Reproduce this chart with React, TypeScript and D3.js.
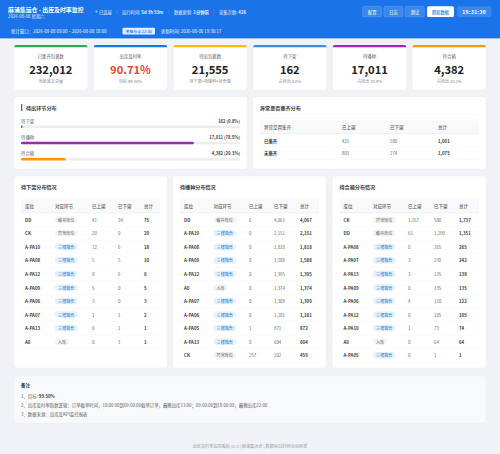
import React from "react";
import * as d3 from "d3";

const FONT = '"Noto Sans CJK SC", "Noto Sans", sans-serif';

const kpiLabels = ["已集齐包裹数", "出库及时率", "待出包裹数", "待下架", "待播种", "待合箱"];
const kpiValues = ["232,012", "90.71%", "21,555", "162", "17,011", "4,382"];
const kpiNotes = ["当前波次总量", "目标 99.50%", "待下架+待播种+待合箱", "占待出 0.8%", "占待出 78.9%", "占待出 20.3%"];
const kpiColors = ["#34a853", "#1a73e8", "#fbbc04", "#4285f4", "#9c27b0", "#ff9800"];

const stageNames = ["待下架", "待播种", "待合箱"];
const stageCounts = [162, 17011, 4382];
const stageTexts = ["162 (0.8%)", "17,011 (78.9%)", "4,382 (20.3%)"];
const stageColors = ["#1a73e8", "#9c27b0", "#ff9800"];

const tableHeaders = ["库位", "对应环节", "已上架", "已下架", "总计"];
type Row = [string, string, string, string, string];

const S = "三楼箱合";
const pickRows: Row[] = [
  ["DD", "缓存库位", "41", "34", "75"],
  ["CK", "异常库位", "20", "0", "20"],
  ["A-PA10", S, "12", "6", "18"],
  ["A-PA08", S, "5", "5", "10"],
  ["A-PA12", S, "0", "6", "6"],
  ["A-PA09", S, "5", "0", "5"],
  ["A-PA06", S, "3", "0", "3"],
  ["A-PA07", S, "1", "1", "2"],
  ["A-PA13", S, "0", "1", "1"],
  ["A0", "入库", "0", "1", "1"],
];
const sowRows: Row[] = [
  ["DD", "缓存库位", "6", "4,061", "4,067"],
  ["A-PA10", S, "0", "2,151", "2,151"],
  ["A-PA08", S, "0", "1,818", "1,818"],
  ["A-PA09", S, "0", "1,588", "1,588"],
  ["A-PA12", S, "0", "1,395", "1,395"],
  ["A0", "入库", "0", "1,374", "1,374"],
  ["A-PA07", S, "0", "1,309", "1,309"],
  ["A-PA06", S, "0", "1,181", "1,181"],
  ["A-PA05", S, "1", "871", "872"],
  ["A-PA13", S, "0", "604", "604"],
  ["CK", "异常库位", "257", "202", "459"],
];
const boxRows: Row[] = [
  ["CK", "异常库位", "1,157", "580", "1,737"],
  ["DD", "缓存库位", "61", "1,290", "1,351"],
  ["A-PA08", S, "0", "265", "265"],
  ["A-PA07", S, "3", "239", "242"],
  ["A-PA13", S, "3", "135", "138"],
  ["A-PA09", S, "0", "135", "135"],
  ["A-PA06", S, "4", "118", "122"],
  ["A-PA12", S, "0", "105", "105"],
  ["A-PA10", S, "1", "73", "74"],
  ["A0", "入库", "0", "64", "64"],
  ["A-PA05", S, "0", "1", "1"],
];

const abnormalHeaders = ["异常是否集齐", "已上架", "已下架", "总计"];
const abnormalRows = [
  ["已集齐", "421", "580", "1,001"],
  ["未集齐", "801", "274", "1,075"],
];

const buttons = ["配置", "日志", "测试"];
const notes = [
  "2、出库及时率取数逻辑：订单截单时间，18:00:00到09:00:00截单订单，最晚出库13:00；09:00:00到18:00:00，最晚出库22:00",
  "3、数据来源：出库及KPI监控报表",
];

const T: React.FC<any> = ({ children, ...p }) => (
  <text dominantBaseline="central" {...p}>{children}</text>
);

const Card: React.FC<{ x: number; y: number; w: number; h: number; fill?: string }> = ({ x, y, w, h, fill = "#fff" }) => (
  <rect x={x} y={y} width={w} height={h} rx={3} fill={fill} stroke="#e9ebef" strokeWidth={0.3} />
);

const StockTable: React.FC<{ x: number; w: number; title: string; rows: Row[]; cols: number[] }> = ({ x, w, title, rows, cols }) => {
  const tx = x + 7;
  const tw = w - 14;
  const rowY = d3.scaleBand<number>().domain(d3.range(11)).range([213, 362]);
  return (
    <g>
      <Card x={x} y={176} w={w} h={192} />
      <T x={tx} y={186.5} fontSize={5.1} fontWeight={700} fill="#3c4043">{title}</T>
      <line x1={tx} x2={tx + tw} y1={193} y2={193} stroke="#f1f3f4" strokeWidth={0.4} />
      <rect x={tx} y={199} width={tw} height={13.5} fill="#f8f9fa" />
      <line x1={tx} x2={tx + tw} y1={212.8} y2={212.8} stroke="#e4e6ea" strokeWidth={0.6} />
      {tableHeaders.map((h, i) => (
        <T key={h} x={cols[i]} y={206} fontSize={4.5} fontWeight={500} fill="#5f6368">{h}</T>
      ))}
      {rows.map((r, i) => {
        const cy = rowY(i)! + rowY.bandwidth() / 2;
        const special = r[1] === S;
        const bw = r[1].length === 2 ? 14 : 22.5;
        return (
          <g key={r[0]}>
            <T x={cols[0]} y={cy} fontSize={4.4} fontWeight={700} fill="#3c4043">{r[0]}</T>
            <rect x={cols[1]} y={cy - 3.3} width={bw} height={6.6} rx={3.3} fill={special ? "#e3f2fd" : "#f1f3f4"} />
            <T x={cols[1] + bw / 2} y={cy} fontSize={4.1} textAnchor="middle" fill={special ? "#1976d2" : "#5f6368"}>{r[1]}</T>
            <T x={cols[2]} y={cy} fontSize={4.4} fill="#5f6368">{r[2]}</T>
            <T x={cols[3]} y={cy} fontSize={4.4} fill="#5f6368">{r[3]}</T>
            <T x={cols[4]} y={cy} fontSize={4.4} fontWeight={700} fill="#3c4043">{r[4]}</T>
            <line x1={tx} x2={tx + tw} y1={rowY(i)! + rowY.bandwidth()} y2={rowY(i)! + rowY.bandwidth()} stroke="#f1f3f4" strokeWidth={0.4} />
          </g>
        );
      })}
    </g>
  );
};

export default function App() {
  const kpiX = d3.scaleBand<number>().domain(d3.range(6)).range([14, 486]).paddingInner(0.076);
  const stageTotal = d3.sum(stageCounts);
  const barW = d3.scaleLinear().domain([0, stageTotal]).range([0, 219]);
  const stageY = d3.scalePoint<number>().domain(d3.range(3)).range([120.5, 153]);
  const abnormalY = d3.scalePoint<number>().domain(d3.range(2)).range([140.5, 153.2]);
  const abnormalX = [264, 342, 390, 438];
  return (
    <svg width={500} height={454} viewBox="0 0 500 454" fontFamily={FONT} style={{ position: "absolute", left: 0, top: 0, display: "block" }}>
      <rect width={500} height={454} fill="#f0f2f5" />
      <rect width={500} height={38} fill="#1a73e8" />
      <line x1={0} x2={500} y1={38.2} y2={38.2} stroke="#1565c0" strokeWidth={0.5} />

      <T x={8} y={9.5} fontSize={5.9} fontWeight={700} fill="#fff">麻涌集运仓 - 出库及时率监控</T>
      <T x={8} y={16} fontSize={4.4} fill="#fff" opacity={0.85}>2026-08-08 星期六</T>

      <circle cx={96.5} cy={11.5} r={1.1} fill="#69f0ae" />
      <T x={99} y={11.5} fontSize={4.3} fill="#fff" opacity={0.9}>已连接</T>
      <line x1={117} x2={117} y1={9} y2={14} stroke="#fff" opacity={0.3} strokeWidth={0.4} />
      <T x={122} y={11.5} fontSize={4.3} fill="#fff" opacity={0.9}>运行时间: <tspan fontWeight={700}>5d 3h 53m</tspan></T>
      <line x1={169} x2={169} y1={9} y2={14} stroke="#fff" opacity={0.3} strokeWidth={0.4} />
      <T x={174} y={11.5} fontSize={4.3} fill="#fff" opacity={0.9}>数据更新: <tspan fontWeight={700}>1分钟前</tspan></T>
      <line x1={214} x2={214} y1={9} y2={14} stroke="#fff" opacity={0.3} strokeWidth={0.4} />
      <T x={219} y={11.5} fontSize={4.3} fill="#fff" opacity={0.9}>采集次数: <tspan fontWeight={700}>426</tspan></T>

      {buttons.map((b, i) => {
        const bx = 362.5 + i * 21.3;
        return (
          <g key={b}>
            <rect x={bx} y={6.3} width={19.3} height={10.7} rx={1.6} fill="#fff" fillOpacity={0.15} stroke="#fff" strokeOpacity={0.3} strokeWidth={0.4} />
            <T x={bx + 9.65} y={11.7} fontSize={4.3} textAnchor="middle" fill="#fff">{b}</T>
          </g>
        );
      })}
      <rect x={427} y={6.3} width={27} height={10.7} rx={1.6} fill="#fff" />
      <T x={440.5} y={11.7} fontSize={4.3} fontWeight={500} textAnchor="middle" fill="#1a73e8">刷新数据</T>
      <rect x={457} y={6.3} width={34.5} height={10.7} rx={1.8} fill="#fff" fillOpacity={0.15} />
      <T x={474.2} y={11.7} fontSize={5} fontWeight={700} textAnchor="middle" letterSpacing={0.35} fill="#fff">19:31:30</T>

      <T x={11} y={31} fontSize={4.4} fill="#fff" opacity={0.95}>统计窗口：2026-08-08 09:00 ~ 2026-08-08 18:00</T>
      <rect x={122.5} y={27.7} width={32.5} height={6.8} rx={1.2} fill="#fff" fillOpacity={0.88} />
      <T x={138.7} y={31} fontSize={3.85} fontWeight={500} textAnchor="middle" fill="#1a73e8">考核节点 22:00</T>
      <T x={161} y={31} fontSize={4.4} fill="#fff" opacity={0.95}>更新时间: 2026-08-08 19:30:17</T>

      {kpiLabels.map((label, i) => {
        const x = kpiX(i)!;
        const w = kpiX.bandwidth();
        const cx = x + w / 2;
        return (
          <g key={label}>
            <Card x={x} y={45} w={w} h={45} />
            <path d={`M${x},47.2 a2.2,2.2 0 0 1 2.2,-2.2 h${w - 4.4} a2.2,2.2 0 0 1 2.2,2.2 z`} fill={kpiColors[i]} />
            <T x={cx} y={55.5} fontSize={4.4} textAnchor="middle" fill="#5f6368">{label}</T>
            <T x={cx} y={68.8} fontSize={11.2} fontWeight={700} textAnchor="middle" fill={i === 1 ? "#ea4335" : "#202124"}>{kpiValues[i]}</T>
            <T x={cx} y={81} fontSize={4.1} textAnchor="middle" fill="#80868b">{kpiNotes[i]}</T>
          </g>
        );
      })}

      <Card x={14} y={97} w={233} h={72} />
      <rect x={21} y={104} width={1.3} height={7} fill="#1a73e8" />
      <T x={26} y={107.7} fontSize={5.1} fontWeight={700} fill="#3c4043">待出环节分布</T>
      {stageNames.map((name, i) => {
        const ly = stageY(i)!;
        return (
          <g key={name}>
            <T x={21} y={ly} fontSize={4.4} fill="#5f6368">{name}</T>
            <T x={240} y={ly} fontSize={4.2} fontWeight={700} textAnchor="end" fill="#3c4043">{stageTexts[i]}</T>
            <rect x={21} y={ly + 5} width={219} height={2.6} rx={1.3} fill="#eceef1" />
            <rect x={21} y={ly + 5} width={Math.max(barW(stageCounts[i]), 1.5)} height={2.6} rx={1.3} fill={stageColors[i]} />
          </g>
        );
      })}

      <Card x={253} y={97} w={233} h={72} />
      <T x={260} y={107.7} fontSize={5.1} fontWeight={700} fill="#3c4043">异常是否集齐分布</T>
      <line x1={260} x2={479} y1={114.5} y2={114.5} stroke="#f1f3f4" strokeWidth={0.4} />
      <rect x={260} y={120.5} width={219} height={13} fill="#f8f9fa" />
      <line x1={260} x2={479} y1={133.7} y2={133.7} stroke="#e4e6ea" strokeWidth={0.6} />
      {abnormalHeaders.map((h, i) => (
        <T key={h} x={abnormalX[i]} y={127} fontSize={4.5} fontWeight={500} fill="#5f6368">{h}</T>
      ))}
      {abnormalRows.map((r, i) => {
        const cy = abnormalY(i)!;
        return (
          <g key={r[0]}>
            {r.map((c, j) => (
              <T key={j} x={abnormalX[j]} y={cy} fontSize={4.4} fontWeight={j === 0 || j === 3 ? 700 : 400} fill={j === 0 || j === 3 ? "#3c4043" : "#5f6368"}>{c}</T>
            ))}
            <line x1={260} x2={479} y1={cy + 6.4} y2={cy + 6.4} stroke="#f1f3f4" strokeWidth={0.4} />
          </g>
        );
      })}

      <StockTable x={14} w={153} title="待下架分布情况" rows={pickRows} cols={[25, 55, 92, 118, 144]} />
      <StockTable x={173} w={153} title="待播种分布情况" rows={sowRows} cols={[184, 213.5, 249, 274, 300]} />
      <StockTable x={332.5} w={153.5} title="待合箱分布情况" rows={boxRows} cols={[343.5, 373, 408, 434, 459]} />

      <Card x={14} y={376} w={472} h={47} fill="#f8f9fa" />
      <T x={21} y={385} fontSize={4.4} fontWeight={700} fill="#3c4043">备注</T>
      <T x={21} y={396} fontSize={4.4} fill="#5f6368">1、目标: <tspan fontWeight={700} fill="#3c4043">99.50%</tspan></T>
      {notes.map((n, i) => (
        <T key={n} x={21} y={405 + i * 9} fontSize={4.4} fill="#5f6368">{n}</T>
      ))}

      <T x={250} y={445.5} fontSize={4.15} textAnchor="middle" fill="#9aa0a6">出库及时率监控看板 v1.0 | 麻涌集运仓 | 数据每30分钟自动刷新</T>
    </svg>
  );
}
